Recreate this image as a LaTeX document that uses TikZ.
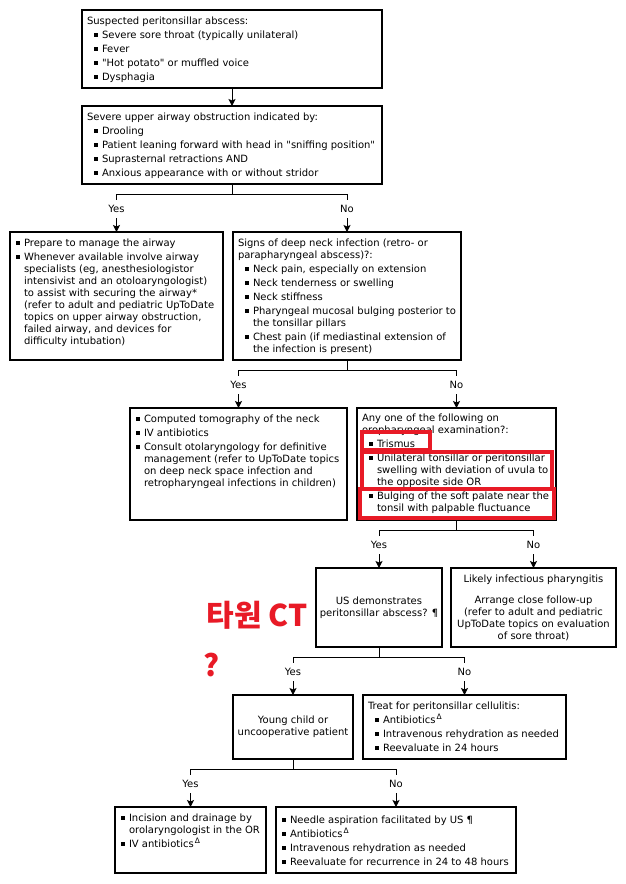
\documentclass[tikz,border=0pt]{standalone}
\usepackage{fontspec}
\setmainfont{DejaVu Sans}[Ligatures=TeXOff]
\newfontfamily\krfont{Noto Sans CJK KR}
\usetikzlibrary{arrows.meta}
\definecolor{annot}{RGB}{232,26,38}
\newlength\bpre
\newcommand\bsq{\raisebox{1.5pt}{\rule{4pt}{4pt}}}
\newcommand\fstrut{\rule{0pt}{14pt}}
\newcommand\bi[1]{\par\hangindent=\dimexpr\bpre+8pt\relax\hangafter=1\noindent\fstrut\hspace*{\bpre}\makebox[8pt][l]{\bsq}#1\par}
\newcommand\hd[1]{\par\noindent\fstrut #1\par}
\newcommand\dl{\kern1pt\raisebox{4pt}{\fontsize{7.5}{8}\selectfont Δ}}
\newcommand\bx[5]{\parbox[c][#2pt][t]{#1pt}{\fontsize{10}{12}\selectfont\parindent=0pt\parskip=2pt\leftskip=#3pt\rightskip=-40pt plus 1fil\parfillskip=0pt\lineskiplimit=-100pt\lineskip=0pt\bpre=#4pt #5}}
\newcommand\cx[3]{\parbox[c][#2pt][c]{#1pt}{\centering\fontsize{10}{12}\selectfont #3}}
\tikzset{
  box/.style={draw, line width=1.1pt, inner sep=0pt, outer sep=0pt, anchor=north west},
  lbl/.style={inner sep=0pt, outer sep=0pt, minimum height=18pt, text height=7pt, text depth=0pt, font=\fontsize{10}{12}\selectfont},
  ln/.style={line width=1pt},
  arr/.style={line width=1pt, -{Stealth[length=7pt,width=7pt,inset=1.5pt]}},
  redb/.style={draw=annot, line width=4.3pt},
  annottext/.style={text=annot, inner sep=0pt, font=\krfont\bfseries\fontsize{30}{33}\selectfont}
}
\begin{document}
\begin{tikzpicture}[x=1pt,y=-1pt]
\fill[white] (0,0) rectangle (626,884);
\useasboundingbox (0,0) rectangle (626,884);

\node[box] (b1) at (82,10) {\bx{300}{78}{5}{7}{\hd{Suspected peritonsillar abscess:}\bi{Severe sore throat (typically unilateral)}\bi{Fever}\bi{"Hot potato" or muffled voice}\bi{Dysphagia}}};

\node[box] (b2) at (82,106) {\bx{300}{78}{5}{7}{\hd{Severe upper airway obstruction indicated by:}\bi{Drooling}\bi{Patient leaning forward with head in "sniffing position"}\bi{Suprasternal retractions AND}\bi{Anxious appearance with or without stridor}}};

\node[box] (b3) at (10,232) {\bx{213}{128}{6}{0}{\bi{Prepare to manage the airway}\bi{Whenever available involve airway\newline specialists (eg, anesthesiologistor\newline intensivist and an otoloaryngologist)\newline to assist with securing the airway*\newline (refer to adult and pediatric UpToDate\newline topics on upper airway obstruction,\newline failed airway, and devices for\newline difficulty intubation)}}};

\node[box] (b4) at (233,232) {\bx{228}{128}{5}{7}{\hd{Signs of deep neck infection (retro- or\newline parapharyngeal abscess)?:}\bi{Neck pain, especially on extension}\bi{Neck tenderness or swelling}\bi{Neck stiffness}\bi{Pharyngeal mucosal bulging posterior to\newline the tonsillar pillars}\bi{Chest pain (if mediastinal extension of\newline the infection is present)}}};

\node[box] (b5) at (130,408) {\bx{217}{112}{6}{0}{\bi{Computed tomography of the neck}\bi{IV antibiotics}\bi{Consult otolaryngology for definitive\newline management (refer to UpToDate topics\newline on deep neck space infection and\newline retropharyngeal infections in children)}}};

\node[box] (b6) at (357,408) {\bx{199}{112}{5}{7}{\renewcommand\fstrut{\rule{0pt}{13pt}}\hd{Any one of the following on\newline oropharyngeal examination?:}\bi{Trismus}\bi{Unilateral tonsillar or peritonsillar\newline swelling with deviation of uvula to\newline the opposite side OR}\bi{Bulging of the soft palate near the\newline tonsil with palpable fluctuance}}};

\node[box] (b7) at (316,568) {\cx{126}{79}{US demonstrates\\peritonsillar abscess? ¶}};

\node[box] (b8) at (451,568) {\parbox[c][79pt][t]{165pt}{\centering\fontsize{10}{12}\selectfont\fstrut Likely infectious pharyngitis\par\vspace{9pt}Arrange close follow-up\\(refer to adult and pediatric\\UpToDate topics on evaluation\\of sore throat)}};

\node[box] (b9) at (233,695) {\cx{120}{64}{Young child or\\uncooperative patient}};

\node[box] (b10) at (363,695) {\bx{203}{64}{5}{7}{\hd{Treat for peritonsillar cellulitis:}\bi{Antibiotics\dl}\bi{Intravenous rehydration as needed}\bi{Reevaluate in 24 hours}}};

\node[box] (b11) at (115,807) {\bx{151}{66}{6}{0}{\bi{Incision and drainage by\newline orolaryngologist in the OR}\bi{IV antibiotics\dl}}};

\node[box] (b12) at (276,807) {\bx{240}{66}{6}{0}{\renewcommand\fstrut{\rule{0pt}{16pt}}\bi{Needle aspiration facilitated by US ¶}\bi{Antibiotics\dl}\bi{Intravenous rehydration as needed}\bi{Reevaluate for recurrence in 24 to 48 hours}}};

% labels
\node[lbl] (l3) at ([yshift=23pt]b3.north) {Yes};
\node[lbl] (l4) at ([yshift=23pt]b4.north) {No};
\node[lbl] (l5) at ([yshift=23pt]b5.north) {Yes};
\node[lbl] (l6) at ([yshift=23pt]b6.north) {No};
\node[lbl] (l7) at ([yshift=23pt]b7.north) {Yes};
\node[lbl] (l8) at ([yshift=23pt]b8.north) {No};
\node[lbl] (l9) at ([yshift=23pt]b9.north) {Yes};
\node[lbl] (l10) at ([yshift=23pt]b10.north) {No};
\node[lbl] (l11) at ([yshift=23pt]b11.north) {Yes};
\node[lbl] (l12) at ([yshift=23pt]b12.north) {No};

% connectors
\draw[arr] (b1.south) -- (b2.north);
\foreach \p/\a/\b in {b2/3/4, b4/5/6, b6/7/8, b7/9/10, b9/11/12}{
  \draw[ln] (\p.south) -- ++(0,10) -| (l\a.north);
  \draw[ln] (\p.south) -- ++(0,10) -| (l\b.north);
  \draw[arr] (l\a.south) -- (b\a.north);
  \draw[arr] (l\b.south) -- (b\b.north);
}

% red annotations
\draw[redb] (362.2,431.7) rectangle (430,450.5);
\draw[redb] (362.2,451.7) rectangle (552.3,488.8);
\draw[redb] (359.8,488.8) rectangle (554,518.2);
\node[annottext] (kr) at (257,615) {타원\hspace{7pt}CT};
\node[annottext] (qm) at (212,665.5) {?};
\end{tikzpicture}
\end{document}
